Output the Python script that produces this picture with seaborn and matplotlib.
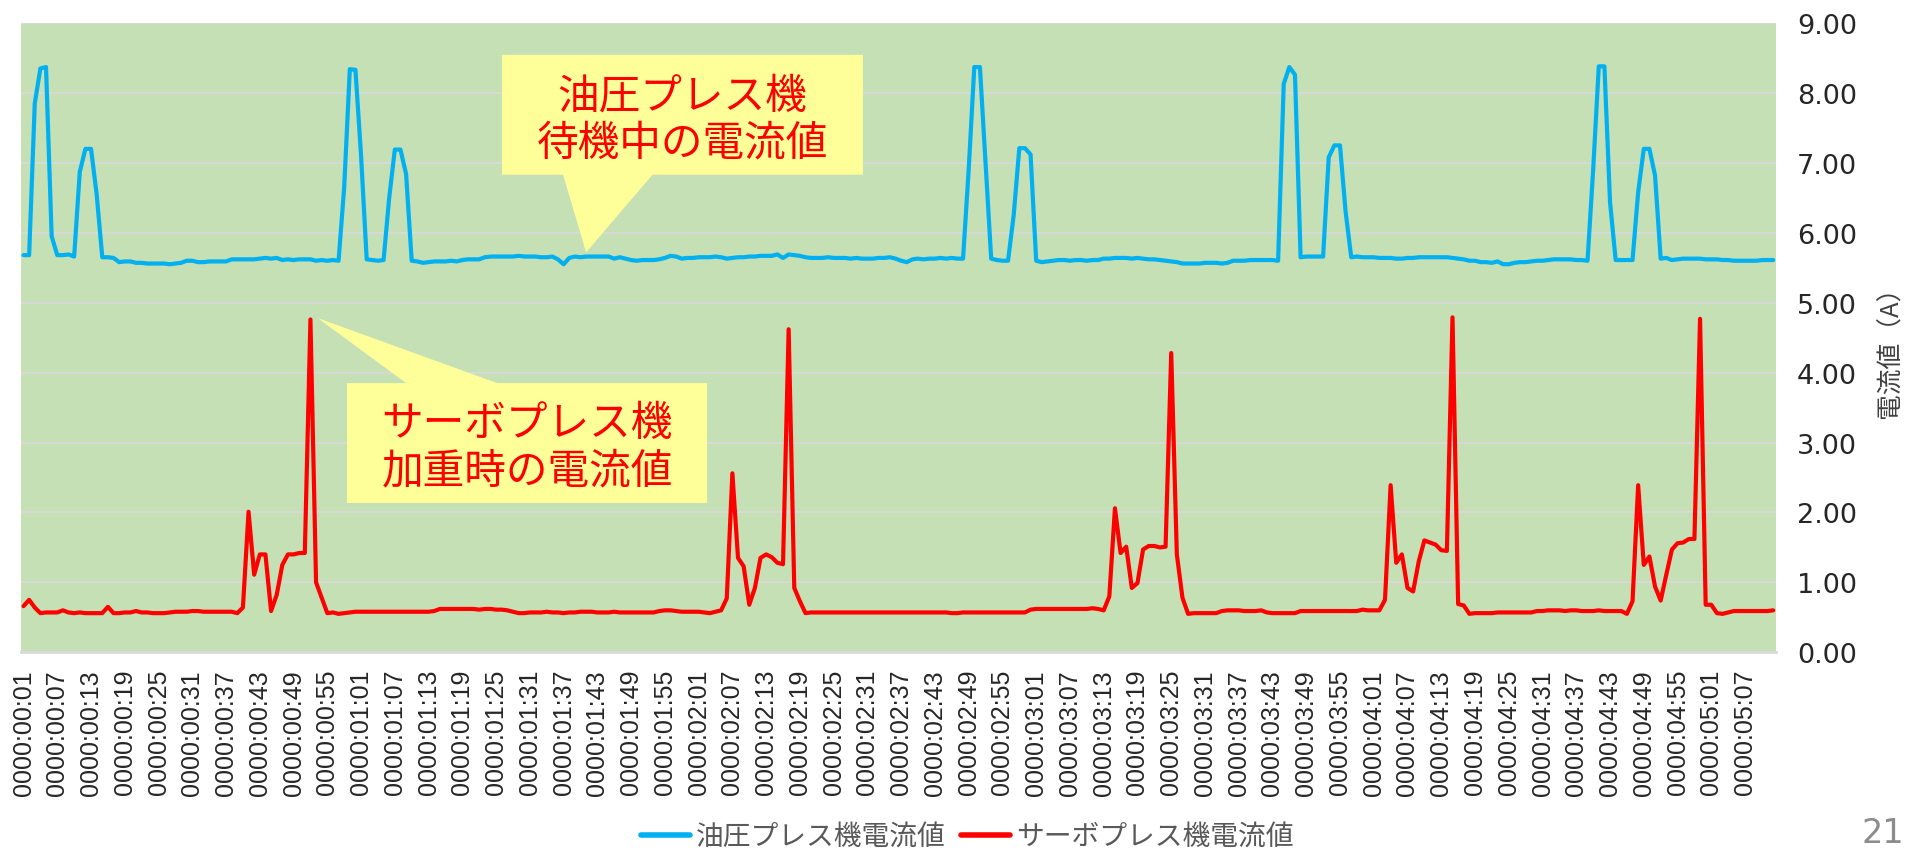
import matplotlib
matplotlib.use("Agg")
import matplotlib.pyplot as plt
import pandas as pd
import seaborn as sns
from matplotlib.patches import Polygon
from matplotlib.lines import Line2D

# ---------------- data ----------------
series_names = ["油圧プレス機電流値", "サーボプレス機電流値"]

oil_press = [
    5.68, 5.68, 7.85, 8.35, 8.37, 5.95, 5.68, 5.68, 5.69, 5.66,
    6.87, 7.20, 7.20, 6.55, 5.65, 5.65, 5.64, 5.58, 5.59, 5.59,
    5.57, 5.57, 5.56, 5.56, 5.56, 5.56, 5.55, 5.56, 5.57, 5.60,
    5.60, 5.58, 5.58, 5.59, 5.59, 5.59, 5.59, 5.62, 5.62, 5.62,
    5.62, 5.62, 5.63, 5.64, 5.63, 5.64, 5.61, 5.62, 5.61, 5.62,
    5.62, 5.62, 5.60, 5.61, 5.60, 5.61, 5.60, 6.65, 8.34, 8.33,
    7.10, 5.62, 5.61, 5.60, 5.61, 6.50, 7.19, 7.19, 6.84, 5.60,
    5.59, 5.57, 5.58, 5.59, 5.59, 5.59, 5.60, 5.59, 5.61, 5.62,
    5.62, 5.62, 5.65, 5.66, 5.66, 5.66, 5.66, 5.66, 5.67, 5.66,
    5.66, 5.66, 5.65, 5.65, 5.66, 5.62, 5.55, 5.64, 5.66, 5.65,
    5.66, 5.66, 5.66, 5.66, 5.66, 5.63, 5.65, 5.63, 5.61, 5.60,
    5.61, 5.61, 5.61, 5.62, 5.64, 5.67, 5.66, 5.63, 5.64, 5.64,
    5.65, 5.65, 5.65, 5.66, 5.65, 5.63, 5.64, 5.65, 5.65, 5.66,
    5.66, 5.67, 5.67, 5.67, 5.69, 5.64, 5.69, 5.68, 5.67, 5.65,
    5.64, 5.64, 5.64, 5.65, 5.64, 5.64, 5.64, 5.63, 5.64, 5.63,
    5.63, 5.63, 5.64, 5.64, 5.65, 5.63, 5.60, 5.58, 5.62, 5.63,
    5.62, 5.63, 5.63, 5.64, 5.63, 5.64, 5.63, 5.63, 6.90, 8.37,
    8.37, 7.00, 5.63, 5.61, 5.60, 5.60, 6.25, 7.21, 7.21, 7.12,
    5.60, 5.58, 5.59, 5.60, 5.61, 5.61, 5.60, 5.61, 5.61, 5.60,
    5.61, 5.61, 5.63, 5.63, 5.64, 5.64, 5.64, 5.63, 5.64, 5.63,
    5.62, 5.62, 5.61, 5.60, 5.59, 5.58, 5.56, 5.56, 5.56, 5.56,
    5.57, 5.57, 5.57, 5.56, 5.57, 5.60, 5.60, 5.60, 5.61, 5.61,
    5.61, 5.61, 5.61, 5.60, 8.13, 8.37, 8.26, 5.65, 5.66, 5.66,
    5.66, 5.66, 7.08, 7.25, 7.25, 6.30, 5.65, 5.66, 5.65, 5.65,
    5.65, 5.64, 5.64, 5.64, 5.63, 5.63, 5.64, 5.64, 5.65, 5.65,
    5.65, 5.65, 5.65, 5.65, 5.64, 5.63, 5.62, 5.60, 5.60, 5.58,
    5.58, 5.57, 5.59, 5.55, 5.55, 5.57, 5.58, 5.58, 5.59, 5.60,
    5.60, 5.61, 5.62, 5.62, 5.62, 5.62, 5.61, 5.61, 5.60, 6.90,
    8.38, 8.38, 6.44, 5.61, 5.61, 5.61, 5.61, 6.58, 7.20, 7.20,
    6.82, 5.63, 5.64, 5.61, 5.62, 5.63, 5.63, 5.63, 5.63, 5.62,
    5.62, 5.62, 5.61, 5.61, 5.60, 5.60, 5.60, 5.60, 5.60, 5.61,
    5.61, 5.61,
]

servo_press = [
    0.66, 0.75, 0.64, 0.56, 0.57, 0.57, 0.57, 0.60, 0.57, 0.56,
    0.57, 0.56, 0.56, 0.56, 0.56, 0.65, 0.56, 0.56, 0.57, 0.57,
    0.59, 0.57, 0.57, 0.56, 0.56, 0.56, 0.57, 0.58, 0.58, 0.58,
    0.59, 0.59, 0.58, 0.58, 0.58, 0.58, 0.58, 0.58, 0.56, 0.64,
    2.01, 1.11, 1.40, 1.40, 0.59, 0.82, 1.25, 1.40, 1.40, 1.42,
    1.42, 4.76, 1.00, 0.78, 0.56, 0.57, 0.55, 0.56, 0.57, 0.58,
    0.58, 0.58, 0.58, 0.58, 0.58, 0.58, 0.58, 0.58, 0.58, 0.58,
    0.58, 0.58, 0.58, 0.59, 0.62, 0.62, 0.62, 0.62, 0.62, 0.62,
    0.62, 0.61, 0.62, 0.62, 0.61, 0.61, 0.60, 0.58, 0.56, 0.56,
    0.57, 0.57, 0.57, 0.58, 0.57, 0.57, 0.56, 0.57, 0.57, 0.58,
    0.58, 0.58, 0.57, 0.57, 0.57, 0.58, 0.57, 0.57, 0.57, 0.57,
    0.57, 0.57, 0.57, 0.59, 0.60, 0.60, 0.59, 0.58, 0.58, 0.58,
    0.58, 0.57, 0.56, 0.58, 0.60, 0.77, 2.56, 1.35, 1.23, 0.68,
    0.92, 1.35, 1.40, 1.36, 1.28, 1.26, 4.62, 0.92, 0.73, 0.56,
    0.57, 0.57, 0.57, 0.57, 0.57, 0.57, 0.57, 0.57, 0.57, 0.57,
    0.57, 0.57, 0.57, 0.57, 0.57, 0.57, 0.57, 0.57, 0.57, 0.57,
    0.57, 0.57, 0.57, 0.57, 0.57, 0.56, 0.56, 0.57, 0.57, 0.57,
    0.57, 0.57, 0.57, 0.57, 0.57, 0.57, 0.57, 0.57, 0.57, 0.61,
    0.62, 0.62, 0.62, 0.62, 0.62, 0.62, 0.62, 0.62, 0.62, 0.62,
    0.63, 0.62, 0.60, 0.80, 2.06, 1.42, 1.51, 0.92, 0.99, 1.47,
    1.52, 1.52, 1.50, 1.51, 4.28, 1.40, 0.78, 0.55, 0.56, 0.56,
    0.56, 0.56, 0.56, 0.59, 0.60, 0.60, 0.60, 0.59, 0.59, 0.59,
    0.60, 0.57, 0.56, 0.56, 0.56, 0.56, 0.56, 0.59, 0.59, 0.59,
    0.59, 0.59, 0.59, 0.59, 0.59, 0.59, 0.59, 0.59, 0.61, 0.60,
    0.60, 0.60, 0.75, 2.39, 1.28, 1.40, 0.92, 0.87, 1.30, 1.60,
    1.57, 1.54, 1.46, 1.45, 4.79, 0.69, 0.67, 0.55, 0.56, 0.56,
    0.56, 0.56, 0.57, 0.57, 0.57, 0.57, 0.57, 0.57, 0.57, 0.59,
    0.59, 0.60, 0.60, 0.60, 0.59, 0.60, 0.60, 0.59, 0.59, 0.59,
    0.60, 0.59, 0.59, 0.59, 0.59, 0.55, 0.73, 2.39, 1.25, 1.37,
    0.94, 0.74, 1.11, 1.47, 1.56, 1.57, 1.62, 1.62, 4.77, 0.68,
    0.68, 0.56, 0.55, 0.57, 0.59, 0.59, 0.59, 0.59, 0.59, 0.59,
    0.59, 0.60,
]

start_second = 1
label_step = 6
y_ticks = [0, 1, 2, 3, 4, 5, 6, 7, 8, 9]
y_title = "電流値（A）"
callout_oil = "油圧プレス機\n待機中の電流値"
callout_servo = "サーボプレス機\n加重時の電流値"
page_number = "21"

n = len(oil_press)
seconds = [start_second + i for i in range(n)]
time_labels = [f"0000:{s // 60:02d}:{s % 60:02d}" for s in seconds]

# ---------------- styling ----------------
sns.set_theme(style="white")
plt.rcParams["font.family"] = ["Noto Sans CJK JP", "DejaVu Sans"]

colors = {series_names[0]: "#00B0F0", series_names[1]: "#FF0000"}

df = pd.DataFrame({
    "idx": list(range(n)) * 2,
    "value": oil_press + servo_press,
    "series": [series_names[0]] * n + [series_names[1]] * n,
})

W, H = 1905, 854
fig = plt.figure(figsize=(W / 100, H / 100), dpi=100)
px_l, px_r, px_t, px_b = 20.7, 1776.0, 24.0, 653.3
ax = fig.add_axes([px_l / W, 1 - px_b / H, (px_r - px_l) / W, (px_b - px_t) / H])

sns.lineplot(data=df, x="idx", y="value", hue="series", palette=colors,
             linewidth=3.0, ax=ax, legend=False, estimator=None, sort=False)
for line in ax.get_lines():
    line.set_solid_joinstyle("round")
    line.set_solid_capstyle("round")

ax.set_facecolor("#C5E0B4")
ax.set_xlim(-0.5, n - 0.5)
ax.set_ylim(0, 9)
ax.set_xlabel("")
ax.set_ylabel("")

ax.yaxis.tick_right()
ax.set_yticks(y_ticks)
ax.set_yticklabels([f"{v:.2f}" for v in y_ticks], fontfamily="DejaVu Sans",
                   fontsize=19.5, color="#262626")
ax.set_xticks(list(range(0, n, label_step)))
ax.set_xticklabels(time_labels[::label_step], rotation=90, fontfamily="Liberation Sans",
                   fontsize=18, color="#262626")
ax.tick_params(axis="both", length=0)
ax.tick_params(axis="y", pad=15)
ax.tick_params(axis="x", pad=12)

ax.grid(axis="y", color="#D9D9D9", linewidth=1.4)
ax.grid(axis="x", visible=False)
ax.set_axisbelow(True)
for side in ["top", "left", "right"]:
    ax.spines[side].set_visible(False)
ax.spines["bottom"].set_color("#D9D9D9")
ax.spines["bottom"].set_linewidth(2)

# ---------------- callouts ----------------
yellow = "#FFFF99"
oil_box = [(85.05, 8.545), (149.2, 8.545), (149.2, 6.83), (111.8, 6.83),
           (100.0, 5.72), (95.9, 6.83), (85.05, 6.83)]
ax.add_patch(Polygon(oil_box, closed=True, facecolor=yellow, edgecolor="none", zorder=5))
ax.text((85.05 + 149.2) / 2, 7.62, callout_oil, ha="center", va="center",
        multialignment="center", fontsize=30, color="#FF0000", linespacing=1.2, zorder=6)

servo_box = [(57.5, 3.85), (68.0, 3.85), (52.3, 4.78), (84.2, 3.85), (121.5, 3.85),
             (121.5, 2.136), (57.5, 2.136)]
ax.add_patch(Polygon(servo_box, closed=True, facecolor=yellow, edgecolor="none", zorder=5))
ax.text((57.5 + 121.5) / 2, 2.93, callout_servo, ha="center", va="center",
        multialignment="center", fontsize=30, color="#FF0000", linespacing=1.2, zorder=6)

# ---------------- axis title, legend, page number ----------------
fig.text(1891 / W, 1 - 346 / H, y_title, rotation=90, ha="center", va="center",
         fontsize=18.5, color="#404040")

handles = [Line2D([0], [0], color=colors[s], linewidth=4, solid_capstyle="round")
           for s in series_names]
leg = fig.legend(handles, series_names, loc="center", bbox_to_anchor=(967 / W, 1 - 838 / H),
                 ncol=2, frameon=False, fontsize=20, handlelength=1.78, handletextpad=0.2,
                 columnspacing=0.55, borderpad=0, labelcolor="#595959")

fig.text(1862 / W, 1 - 850 / H, page_number, ha="left", va="bottom", fontsize=24,
         color="#8C8C8C", fontfamily="DejaVu Sans")

fig.savefig("out.png", dpi=100, facecolor="white")
